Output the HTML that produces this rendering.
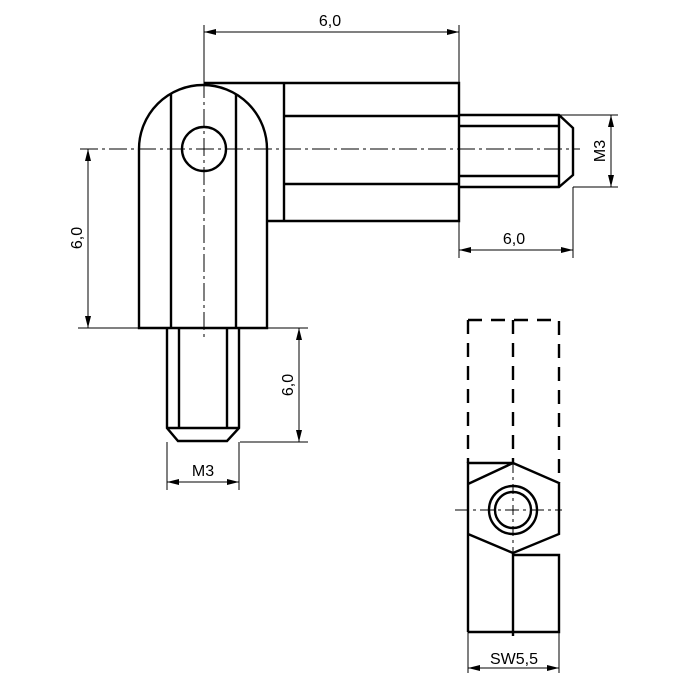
<!DOCTYPE html>
<html><head><style>body{margin:0;background:#fff}svg{display:block}</style></head><body>
<svg width="700" height="700" viewBox="0 0 700 700" xmlns="http://www.w3.org/2000/svg">
<defs>
<marker id="a" viewBox="0 0 12 6" refX="12" refY="3" markerWidth="12" markerHeight="6" orient="auto-start-reverse" markerUnits="userSpaceOnUse"><path d="M0,0 L12,3 L0,6 Z" fill="#000"/></marker>
</defs>
<g fill="none" stroke="#000" stroke-width="2.4">
<path d="M139,328 L139,149 A64,64 0 0 1 267,149 L267,328 Z"/>
<path d="M204,83 L459,83 L459,221 L267,221"/>
<line x1="171" y1="94" x2="171" y2="328"/>
<line x1="236" y1="94" x2="236" y2="328"/>
<line x1="284" y1="83" x2="284" y2="221"/>
<line x1="284" y1="116" x2="459" y2="116"/>
<line x1="284" y1="184" x2="459" y2="184"/>
<circle cx="204" cy="149" r="22"/>
<path d="M459,115 L559,115 L573,128 L573,175 L559,187 L459,187"/>
<line x1="559" y1="115" x2="559" y2="187"/>
<line x1="459" y1="126" x2="559" y2="126"/>
<line x1="459" y1="176" x2="559" y2="176"/>
<path d="M167,328 L167,428 L178,441 L227,441 L239,428 L239,328"/>
<line x1="167" y1="428" x2="239" y2="428"/>
<line x1="179" y1="328" x2="179" y2="428"/>
<line x1="227" y1="328" x2="227" y2="428"/>
<path d="M468,320 L559,320 L559,483 M468,320 L468,463 M513,320 L513,463" stroke-dasharray="14,9"/>
<path d="M468,632 L468,463 L513,463 L559,483 L559,534 L513,553 L468,534 M468,484 L513,463"/>
<path d="M513,555 L559,555 L559,632 L468,632"/>
<line x1="513" y1="553" x2="513" y2="636"/>
<circle cx="513" cy="510" r="24"/>
<circle cx="513" cy="510" r="18"/>
</g>
<g fill="none" stroke="#000" stroke-width="1">
<path d="M80,149 L580,149" stroke-dasharray="18,4,3,4"/>
<path d="M204,80 L204,338" stroke-dasharray="18,4,3,4"/>
<path d="M455,510 L562,510" stroke-dasharray="14,4,3,4"/>
<path d="M513,463 L513,553" stroke-dasharray="10,4,3,4"/>
<line x1="204" y1="25" x2="204" y2="80"/>
<line x1="459" y1="25" x2="459" y2="83"/>
<line x1="78" y1="328" x2="139" y2="328"/>
<line x1="267" y1="328" x2="308" y2="328"/>
<line x1="240" y1="442" x2="308" y2="442"/>
<line x1="459" y1="221" x2="459" y2="258"/>
<line x1="573" y1="187" x2="573" y2="258"/>
<line x1="559" y1="115" x2="618" y2="115"/>
<line x1="573" y1="187" x2="618" y2="187"/>
<line x1="167" y1="442" x2="167" y2="490"/>
<line x1="239" y1="442" x2="239" y2="490"/>
<line x1="468" y1="632" x2="468" y2="673"/>
<line x1="559" y1="632" x2="559" y2="673"/>
<line x1="204" y1="32" x2="459" y2="32" marker-start="url(#a)" marker-end="url(#a)"/>
<line x1="88" y1="149" x2="88" y2="328" marker-start="url(#a)" marker-end="url(#a)"/>
<line x1="459" y1="250" x2="573" y2="250" marker-start="url(#a)" marker-end="url(#a)"/>
<line x1="611" y1="115" x2="611" y2="187" marker-start="url(#a)" marker-end="url(#a)"/>
<line x1="299" y1="328" x2="299" y2="442" marker-start="url(#a)" marker-end="url(#a)"/>
<line x1="167" y1="482" x2="239" y2="482" marker-start="url(#a)" marker-end="url(#a)"/>
<line x1="468" y1="668" x2="559" y2="668" marker-start="url(#a)" marker-end="url(#a)"/>
</g>
<g font-family="Liberation Sans, sans-serif" font-size="16" fill="#000" text-anchor="middle">
<text x="330" y="26">6,0</text>
<text x="514" y="244">6,0</text>
<text x="203" y="476">M3</text>
<text x="514" y="664">SW5,5</text>
<text transform="translate(82,238) rotate(-90)">6,0</text>
<text transform="translate(293,385) rotate(-90)">6,0</text>
<text transform="translate(605,151) rotate(-90)">M3</text>
</g>
</svg>
</body></html>
